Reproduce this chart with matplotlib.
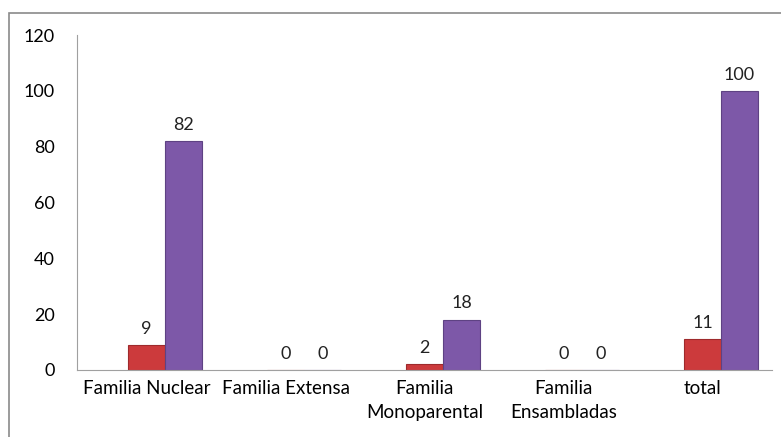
import numpy as np
import matplotlib.pyplot as plt
from matplotlib.patches import Rectangle

categories = ['Familia Nuclear', 'Familia Extensa', 'Familia\nMonoparental',
              'Familia\nEnsambladas', 'total']
serieA = [9, 0, 2, 0, 11]
serieB = [82, 0, 18, 0, 100]
yticks = [0, 20, 40, 60, 80, 100, 120]

plt.rcParams['font.family'] = ['Lato', 'DejaVu Sans']

fig = plt.figure(figsize=(7.81, 4.37), dpi=100)
# outer chart border
fig.patches.append(Rectangle((9 / 781, -0.05), 1.1, 1 - 13 / 437 + 0.05,
                             transform=fig.transFigure, fill=False,
                             edgecolor='#8a8a8a', linewidth=1.2))
ax = fig.add_axes([77 / 781, 67 / 437, 695 / 781, 335 / 437])

x = np.arange(len(categories))
w = 0.266
barsA = ax.bar(x, serieA, w, color='#cc3a3c', edgecolor='#9e2a2c', linewidth=0.8)
barsB = ax.bar(x + w, serieB, w, color='#7d58a8', edgecolor='#5e4283', linewidth=0.8)

for bars, vals in [(barsA, serieA), (barsB, serieB)]:
    for b, v in zip(bars, vals):
        ax.annotate(str(v), (b.get_x() + b.get_width() / 2, v),
                    xytext=(0, 6), textcoords='offset points',
                    ha='center', va='bottom', fontsize=13, color='#222222')

ax.set_xlim(-0.5, len(categories) - 0.5)
ax.set_ylim(0, 120)
ax.set_yticks(yticks)
ax.set_xticks(x)
ax.set_xticklabels(categories, fontsize=13.5, linespacing=1.55)
ax.tick_params(axis='y', length=0, pad=16, labelsize=13)
ax.tick_params(axis='x', length=0, pad=7)
for s in ['top', 'right']:
    ax.spines[s].set_visible(False)
ax.spines['left'].set_color('#a0a0a0')
ax.spines['bottom'].set_color('#a0a0a0')

fig.savefig('out.png', dpi=100)
